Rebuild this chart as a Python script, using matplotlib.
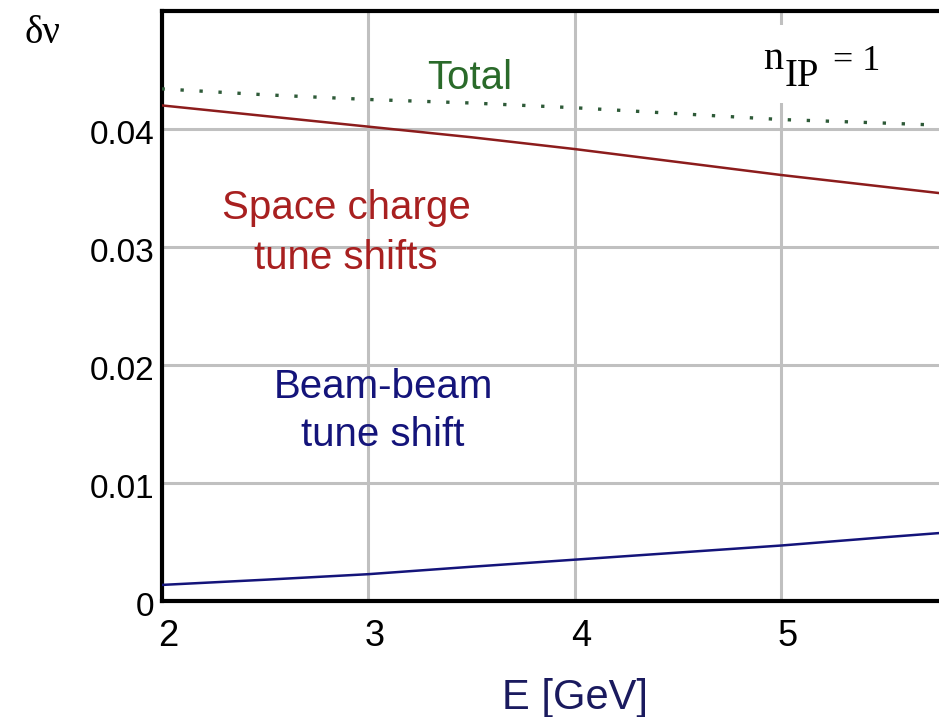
import matplotlib
matplotlib.use("Agg")
from matplotlib import pyplot as plt
from matplotlib.patches import Rectangle
import matplotlib.transforms as mtransforms

# beam energy, GeV
energy = [2.0, 2.5, 3.0, 3.5, 4.0, 4.5, 5.0, 5.5, 5.8]
# space charge tune shift
space_charge = [0.0420, 0.0411, 0.0402, 0.0393, 0.0383, 0.0372, 0.0361, 0.0351, 0.0345]
# beam-beam tune shift
beam_beam = [0.00136, 0.0018, 0.00227, 0.0029, 0.0035, 0.0041, 0.0047, 0.0054, 0.0058]
# total
total = [0.0434, 0.0429, 0.0425, 0.0422, 0.0418, 0.0413, 0.0408, 0.0405, 0.0403]

x_ticks = [2, 3, 4, 5]
y_ticks = [0, 0.01, 0.02, 0.03, 0.04]
y_tick_labels = ["0", "0.01", "0.02", "0.03", "0.04"]

red = "#8c1c1c"
red_text = "#a82020"
navy = "#14147a"
green = "#2e5a38"
green_text = "#2a6a2a"
sans = ["Liberation Sans", "DejaVu Sans"]
serif = ["Liberation Serif", "DejaVu Serif"]

fig = plt.figure(figsize=(9.39, 7.17), dpi=100)
ax = fig.add_axes([0.172, 0.1618, 0.828, 0.8229])

ax.plot(energy, space_charge, color=red, lw=1.8, zorder=3)
ax.plot(energy, beam_beam, color=navy, lw=1.8, zorder=3)
ax.plot(energy, total, color=green, lw=2.4, linestyle=(0, (1, 4.7)), zorder=3)

ax.set_xlim(2, 5.765)
ax.set_ylim(0, 0.05)
ax.set_xticks(x_ticks)
ax.set_yticks(y_ticks)
ax.set_yticklabels(y_tick_labels)
ax.grid(True, color="#c0c0c0", lw=2.2, zorder=0)
ax.set_axisbelow(True)

for side in ["left", "top", "bottom"]:
    ax.spines[side].set_linewidth(3)
    ax.spines[side].set_color("black")
ax.spines["right"].set_visible(False)

ax.tick_params(axis="both", length=0)
ax.tick_params(axis="x", pad=13, labelsize=26)
ax.tick_params(axis="y", pad=5, labelsize=24)
for lab in ax.get_xticklabels() + ax.get_yticklabels():
    lab.set_fontfamily(sans)

shift_x = mtransforms.ScaledTranslation(7 / 100, 0, fig.dpi_scale_trans)
for lab in ax.get_xticklabels():
    lab.set_transform(lab.get_transform() + shift_x)
shift_y = mtransforms.ScaledTranslation(0, -3 / 100, fig.dpi_scale_trans)
for lab in ax.get_yticklabels():
    lab.set_transform(lab.get_transform() + shift_y)

# white box behind the n_IP note
ax.add_patch(Rectangle((0.763, 0.844), 0.174, 0.132, transform=ax.transAxes,
                       facecolor="white", edgecolor="none", zorder=1))

ax.text(3.49, 0.0443, "Total", color=green_text, fontsize=29, family=sans,
        ha="center", va="center", zorder=4)
ax.text(2.893, 0.0312, "Space charge\ntune shifts", color=red_text, fontsize=29,
        family=sans, ha="center", va="center", linespacing=1.38, zorder=4)
ax.text(3.073, 0.0161, "Beam-beam\ntune shift", color=navy, fontsize=29,
        family=sans, ha="center", va="center", linespacing=1.36, zorder=4)

ax.text(4.913, 0.0451, "n", fontsize=29, family=serif, ha="left", va="baseline", zorder=4)
ax.text(5.019, 0.04367, "IP", fontsize=28, family=serif, ha="left", va="baseline", zorder=4)
ax.text(5.252, 0.04503, "= 1", fontsize=26, family=serif, ha="left", va="baseline", zorder=4)

fig.text(0.0266, 0.94, "δν", fontsize=28, family=serif, ha="left", va="baseline")
fig.text(0.612, 0.011, "E [GeV]", fontsize=30, family=sans, color="#1a1a5e",
         ha="center", va="baseline")

fig.savefig("out.png", dpi=100)
